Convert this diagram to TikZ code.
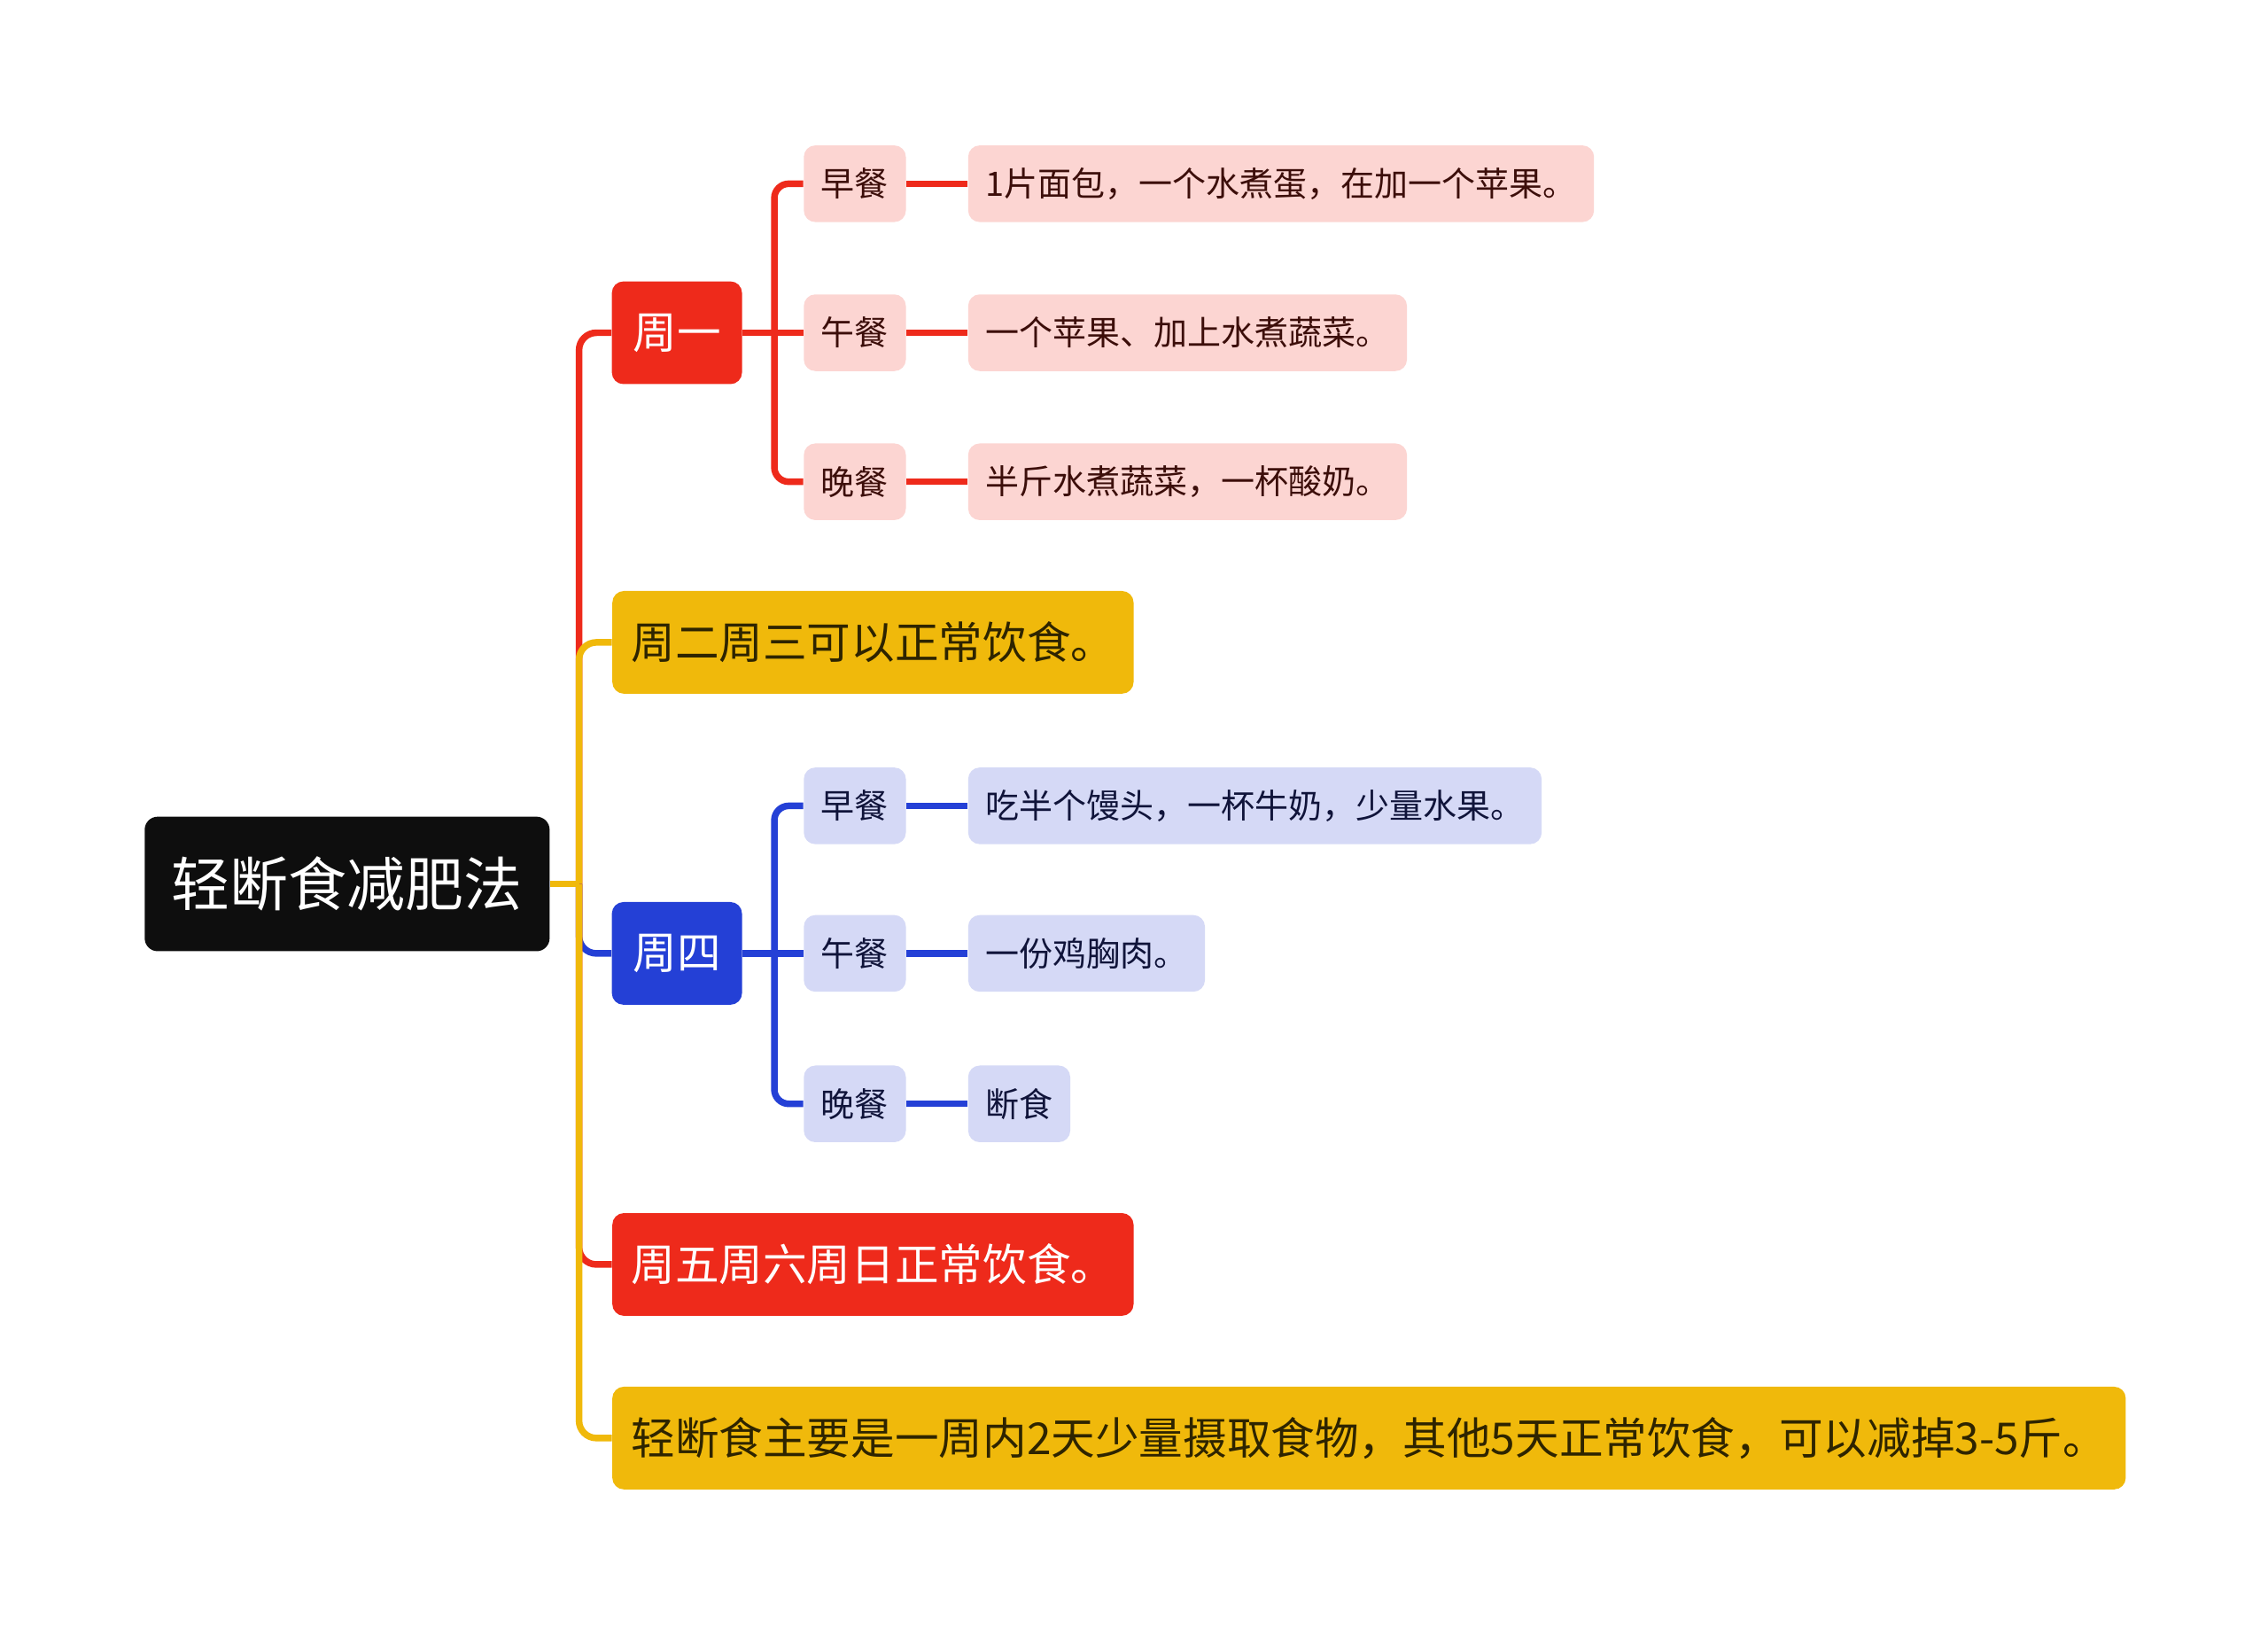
\documentclass[tikz,border=0pt]{standalone}
\usepackage{fontspec}
\setmainfont{Noto Sans CJK SC}
\usepackage{xcolor}
\usetikzlibrary{positioning}

\definecolor{mmblack}{HTML}{0E0E0E}
\definecolor{mmred}{HTML}{EE2A1B}
\definecolor{mmyellow}{HTML}{F0B90B}
\definecolor{mmblue}{HTML}{2440D6}
\definecolor{mmredlight}{HTML}{FCD5D2}
\definecolor{mmbluelight}{HTML}{D5D9F6}
\definecolor{mmredtext}{HTML}{3C0E0A}
\definecolor{mmbluetext}{HTML}{10143A}
\definecolor{mmyellowtext}{HTML}{2E2400}

\tikzset{
  rootbox/.style={fill=mmblack,text=white,rounded corners=0.18cm,minimum width=5.6cm,minimum height=1.86cm,font=\fontsize{23}{28}\selectfont},
  daybox/.style={rounded corners=0.16cm,minimum height=1.42cm,inner xsep=0.26cm,font=\fontsize{17.3}{20}\selectfont},
  mealbox/.style={rounded corners=0.16cm,minimum height=1.06cm,minimum width=1.4cm,inner xsep=0.24cm,font=\fontsize{13.25}{16}\selectfont},
  infobox/.style={mealbox,minimum width=0pt,anchor=west},
  branch/.style={line width=2.6pt,rounded corners=0.24cm},
  twig/.style={line width=2.6pt,rounded corners=0.2cm}
}

\begin{document}
\begin{tikzpicture}[x=0.02cm,y=-0.02cm]
  \path[fill=white,use as bounding box] (0,0) rectangle (1568,1129);

  % root
  \node[rootbox] (root) at (240,611) {轻断食减肥法};

  % main branches
  \node[daybox,fill=mmred,text=white,minimum width=1.8cm] (zhouyi) at (468,230) {周一};
  \node[daybox,fill=mmyellow,text=mmyellowtext,anchor=west] (zhouer) at (423,444) {周二周三可以正常饮食。};
  \node[daybox,fill=mmblue,text=white,minimum width=1.8cm] (zhousi) at (468,659) {周四};
  \node[daybox,fill=mmred,text=white,anchor=west] (zhouwu) at (423,874) {周五周六周日正常饮食。};
  \node[daybox,fill=mmyellow,text=mmyellowtext,anchor=west] (summary) at (423,994) {轻断食主要是一周内2天少量摄取食物，其他5天正常饮食，可以减掉3-5斤。};

  % monday meals
  \node[mealbox,fill=mmredlight,text=mmredtext] (mzao) at (591,127) {早餐};
  \node[mealbox,fill=mmredlight,text=mmredtext] (mwu) at (591,230) {午餐};
  \node[mealbox,fill=mmredlight,text=mmredtext] (mwan) at (591,333) {晚餐};
  \node[infobox,fill=mmredlight,text=mmredtext] (mzaoinfo) at (669,127) {1片面包，一个水煮蛋，在加一个苹果。};
  \node[infobox,fill=mmredlight,text=mmredtext] (mwuinfo) at (669,230) {一个苹果、加上水煮蔬菜。};
  \node[infobox,fill=mmredlight,text=mmredtext] (mwaninfo) at (669,333) {半斤水煮蔬菜，一杯酸奶。};

  % thursday meals
  \node[mealbox,fill=mmbluelight,text=mmbluetext] (tzao) at (591,557) {早餐};
  \node[mealbox,fill=mmbluelight,text=mmbluetext] (twu) at (591,659) {午餐};
  \node[mealbox,fill=mmbluelight,text=mmbluetext] (twan) at (591,763) {晚餐};
  \node[infobox,fill=mmbluelight,text=mmbluetext] (tzaoinfo) at (669,557) {吃半个馒头，一杯牛奶，少量水果。};
  \node[infobox,fill=mmbluelight,text=mmbluetext] (twuinfo) at (669,659) {一份鸡胸肉。};
  \node[infobox,fill=mmbluelight,text=mmbluetext] (twaninfo) at (669,763) {断食};

  % trunk
  \coordinate (trunk) at ([xshift=0.4cm]root.east);
  \draw[branch,mmred] (trunk) |- (zhouyi.west);
  \draw[branch,mmyellow] (trunk) |- (zhouer.west);
  \draw[branch,mmblue] (trunk) |- (zhousi.west);
  \draw[branch,mmred] (trunk) |- (zhouwu.west);
  \draw[branch,mmyellow] (trunk) |- (summary.west);
  \draw[branch,mmyellow] (root.east) -- (trunk);

  % monday twigs
  \coordinate (mfork) at ([xshift=0.44cm]zhouyi.east);
  \draw[twig,mmred] (mfork) |- (mzao.west);
  \draw[twig,mmred] (mfork) |- (mwan.west);
  \draw[twig,mmred] (zhouyi.east) -- (mwu.west);
  \draw[twig,mmred] (mzao) -- (mzaoinfo);
  \draw[twig,mmred] (mwu) -- (mwuinfo);
  \draw[twig,mmred] (mwan) -- (mwaninfo);

  % thursday twigs
  \coordinate (tfork) at ([xshift=0.44cm]zhousi.east);
  \draw[twig,mmblue] (tfork) |- (tzao.west);
  \draw[twig,mmblue] (tfork) |- (twan.west);
  \draw[twig,mmblue] (zhousi.east) -- (twu.west);
  \draw[twig,mmblue] (tzao) -- (tzaoinfo);
  \draw[twig,mmblue] (twu) -- (twuinfo);
  \draw[twig,mmblue] (twan) -- (twaninfo);
\end{tikzpicture}
\end{document}
